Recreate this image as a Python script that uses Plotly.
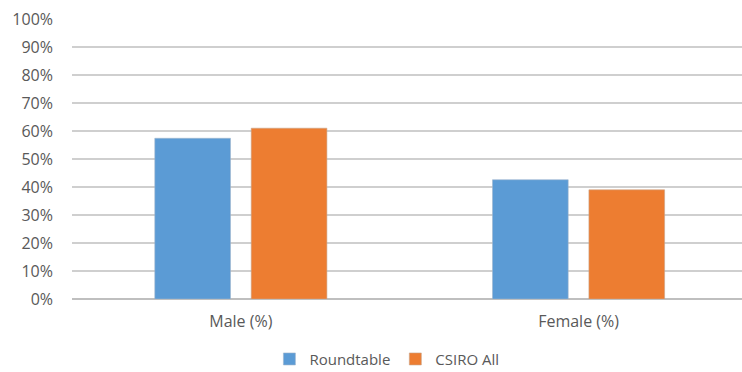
import plotly.graph_objects as go

categories = ["Male (%)", "Female (%)"]
roundtable = [57.4, 42.6]
csiro_all = [61.0, 39.0]
tick_vals = [0, 10, 20, 30, 40, 50, 60, 70, 80, 90, 100]
tick_text = [f"{v}%" for v in tick_vals]

font_family = "'Open Sans', sans-serif"

fig = go.Figure()
fig.add_trace(go.Bar(name="Roundtable", x=categories, y=roundtable,
                     marker=dict(color="#5B9BD5", line=dict(color="#9fb6cc", width=0.6))))
fig.add_trace(go.Bar(name="CSIRO All", x=categories, y=csiro_all,
                     marker=dict(color="#ED7D31", line=dict(color="#c9a58a", width=0.6))))

fig.update_layout(
    width=742, height=372,
    margin=dict(l=72, r=0, t=19, b=73, autoexpand=False),
    paper_bgcolor="white", plot_bgcolor="white",
    barmode="group", bargap=0.429, bargroupgap=0.215,
    font=dict(family=font_family, size=16, color="#595959"),
    showlegend=True,
    legend=dict(orientation="h", x=0.47, xanchor="center", y=-0.215, yanchor="middle",
                font=dict(size=15, color="#595959"), itemwidth=30, traceorder="normal",
                borderwidth=0),
    xaxis=dict(range=[-0.5, 1.484], showgrid=False, showline=False, ticks="",
               tickfont=dict(size=16, color="#595959"), ticklabelstandoff=11),
    yaxis=dict(range=[0, 100], tickvals=tick_vals, ticktext=tick_text,
               showgrid=True, gridcolor="#cfcfcf", gridwidth=1.5,
               zeroline=True, zerolinecolor="#bfbfbf", zerolinewidth=1.5,
               showline=False, ticks="", ticklabelstandoff=18,
               tickfont=dict(size=16, color="#595959")),
)

fig.write_html("out.html")
